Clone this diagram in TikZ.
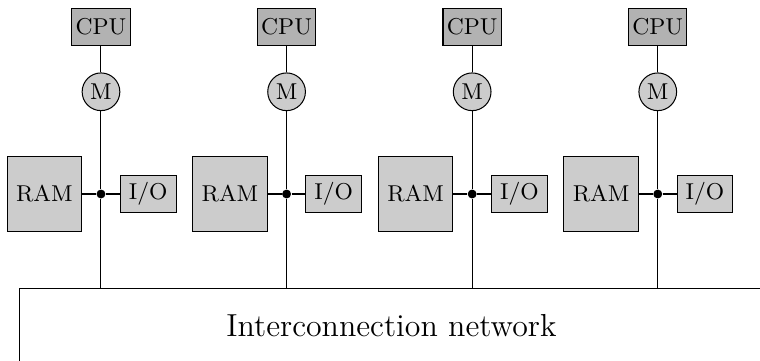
\documentclass[tikz,border=0pt]{standalone}
\usetikzlibrary{calc,positioning}
\tikzstyle{cpu}=[
  draw,fill=black!30,font=\small,inner sep=1.5pt,minimum width=0.77cm,minimum height=0.51cm
]
\tikzstyle{mmu}=[
  draw,circle,fill=black!20,font=\small,inner sep=1pt,minimum size=0.52cm
]
\tikzstyle{ram}=[
  draw,fill=black!20,font=\small,minimum size=1.03cm
]
\tikzstyle{iobox}=[
  draw,fill=black!20,font=\small,inner sep=1.5pt,minimum width=0.77cm,minimum height=0.51cm
]
\tikzstyle{junction}=[
  circle,fill=black,inner sep=0pt,minimum size=3.5pt
]
\tikzstyle{network}=[
  draw,font=\fontsize{12.5}{15}\selectfont,minimum width=10.25cm,minimum height=1.02cm
]

\begin{document}
\begin{tikzpicture}
    \useasboundingbox (-1.393,-2.29) rectangle (9.09,2.676);
    \def\colsep{2.56}
    \node (net) at (4.007,-1.81) [network] {Interconnection network};
    \foreach \i in {1,...,4} {
      \node (dot\i) at ({(\i-1)*\colsep},0) [junction] {};
      \node (ram\i) [ram, left=0.19cm of dot\i] {RAM};
      \node (io\i) [iobox, right=0.19cm of dot\i] {I/O};
      \node (m\i) at ($(dot\i) + (0,1.41)$) [mmu] {M};
      \node (cpu\i) at ($(dot\i) + (0,2.31)$) [cpu] {CPU};
      \draw (cpu\i) -- (m\i);
      \draw (m\i) -- (dot\i);
      \draw (dot\i) -- (dot\i |- net.north);
      \draw (ram\i) -- (dot\i);
      \draw (dot\i) -- (io\i);
    }
\end{tikzpicture}
\end{document}
